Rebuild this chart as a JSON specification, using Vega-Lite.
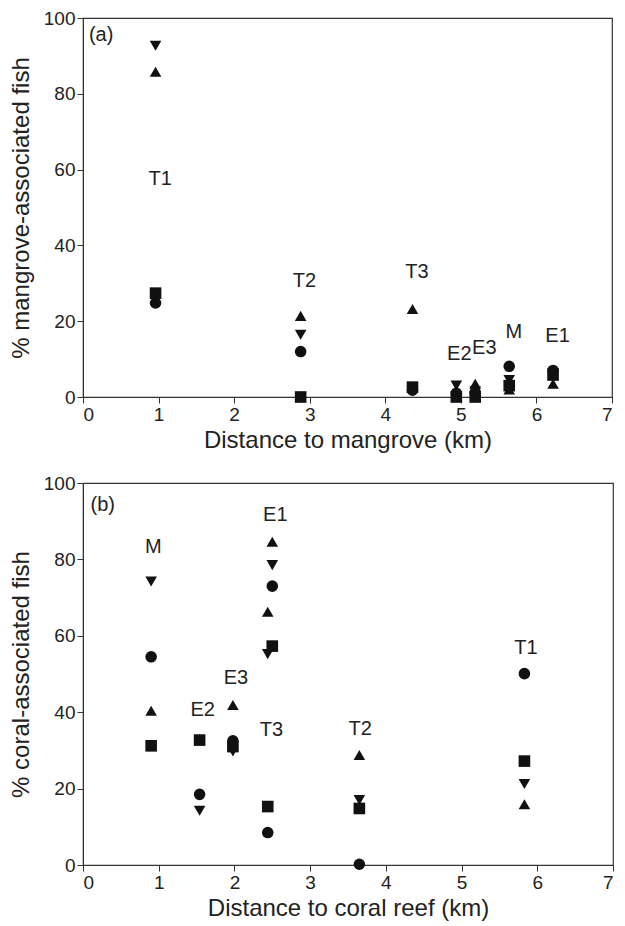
{
  "$schema": "https://vega.github.io/schema/vega-lite/v6.json",
  "padding": {"left": 8, "top": 8, "right": 1, "bottom": 2},
  "background": "white",
  "config": {
    "font": "Liberation Sans",
    "view": {"stroke": "#333", "strokeWidth": 1.2},
    "axis": {
      "grid": false, "domainColor": "#333", "tickColor": "#333", "tickSize": 6,
      "labelFontSize": 19, "titleFontSize": 24, "titleFontWeight": "normal",
      "labelColor": "#222", "titleColor": "#222", "labelPadding": 2, "labelFont": "Liberation Sans", "titleFont": "Liberation Sans"
    }
  },
  "datasets": {
    "ptsA": [
      {"site": "T1", "marker": "down", "x": 0.96, "y": 92.7},
      {"site": "T1", "marker": "up", "x": 0.96, "y": 85.8},
      {"site": "T1", "marker": "square", "x": 0.96, "y": 27.4},
      {"site": "T1", "marker": "circle", "x": 0.96, "y": 24.8},
      {"site": "T2", "marker": "up", "x": 2.88, "y": 21.4},
      {"site": "T2", "marker": "down", "x": 2.88, "y": 16.4},
      {"site": "T2", "marker": "circle", "x": 2.88, "y": 12.0},
      {"site": "T2", "marker": "square", "x": 2.88, "y": 0},
      {"site": "T3", "marker": "up", "x": 4.36, "y": 23.2},
      {"site": "T3", "marker": "square", "x": 4.36, "y": 2.6},
      {"site": "T3", "marker": "circle", "x": 4.36, "y": 1.8},
      {"site": "E2", "marker": "down", "x": 4.94, "y": 3.0},
      {"site": "E2", "marker": "up", "x": 4.94, "y": 1.5},
      {"site": "E2", "marker": "circle", "x": 4.94, "y": 1.0},
      {"site": "E2", "marker": "square", "x": 4.94, "y": 0},
      {"site": "E3", "marker": "up", "x": 5.19, "y": 3.5},
      {"site": "E3", "marker": "down", "x": 5.19, "y": 1.5},
      {"site": "E3", "marker": "circle", "x": 5.19, "y": 1.2},
      {"site": "E3", "marker": "square", "x": 5.19, "y": 0},
      {"site": "M", "marker": "circle", "x": 5.64, "y": 8.1},
      {"site": "M", "marker": "down", "x": 5.64, "y": 4.5},
      {"site": "M", "marker": "square", "x": 5.64, "y": 3.0},
      {"site": "M", "marker": "up", "x": 5.64, "y": 2.0},
      {"site": "E1", "marker": "circle", "x": 6.22, "y": 7.0},
      {"site": "E1", "marker": "down", "x": 6.22, "y": 6.3},
      {"site": "E1", "marker": "square", "x": 6.22, "y": 5.8},
      {"site": "E1", "marker": "up", "x": 6.22, "y": 3.5}
    ],
    "labA": [
      {"label": "(a)", "x": 0.24, "y": 95.5},
      {"label": "T1", "x": 1.02, "y": 57.5},
      {"label": "T2", "x": 2.93, "y": 30.7},
      {"label": "T3", "x": 4.42, "y": 33.0},
      {"label": "E2", "x": 4.98, "y": 11.3},
      {"label": "E3", "x": 5.31, "y": 12.9},
      {"label": "M", "x": 5.70, "y": 17.2},
      {"label": "E1", "x": 6.28, "y": 16.0}
    ],
    "ptsB": [
      {"site": "M", "marker": "down", "x": 0.90, "y": 74.2},
      {"site": "M", "marker": "circle", "x": 0.90, "y": 54.5},
      {"site": "M", "marker": "up", "x": 0.90, "y": 40.4},
      {"site": "M", "marker": "square", "x": 0.90, "y": 31.2},
      {"site": "E2", "marker": "up", "x": 1.54, "y": 33.0},
      {"site": "E2", "marker": "square", "x": 1.54, "y": 32.7},
      {"site": "E2", "marker": "circle", "x": 1.54, "y": 18.5},
      {"site": "E2", "marker": "down", "x": 1.54, "y": 14.2},
      {"site": "E3", "marker": "up", "x": 1.98, "y": 41.9},
      {"site": "E3", "marker": "down", "x": 1.98, "y": 29.7},
      {"site": "E3", "marker": "square", "x": 1.98, "y": 31.0},
      {"site": "E3", "marker": "circle", "x": 1.98, "y": 32.5},
      {"site": "E1", "marker": "up", "x": 2.50, "y": 84.6},
      {"site": "E1", "marker": "down", "x": 2.50, "y": 78.5},
      {"site": "E1", "marker": "circle", "x": 2.50, "y": 73.0},
      {"site": "E1", "marker": "square", "x": 2.50, "y": 57.3},
      {"site": "T3", "marker": "up", "x": 2.44, "y": 66.3},
      {"site": "T3", "marker": "down", "x": 2.44, "y": 55.2},
      {"site": "T3", "marker": "square", "x": 2.44, "y": 15.3},
      {"site": "T3", "marker": "circle", "x": 2.44, "y": 8.5},
      {"site": "T2", "marker": "up", "x": 3.65, "y": 28.8},
      {"site": "T2", "marker": "down", "x": 3.65, "y": 17.0},
      {"site": "T2", "marker": "square", "x": 3.65, "y": 14.8},
      {"site": "T2", "marker": "circle", "x": 3.65, "y": 0.2},
      {"site": "T1", "marker": "circle", "x": 5.83, "y": 50.1},
      {"site": "T1", "marker": "square", "x": 5.83, "y": 27.2},
      {"site": "T1", "marker": "down", "x": 5.83, "y": 21.2},
      {"site": "T1", "marker": "up", "x": 5.83, "y": 15.9}
    ],
    "labB": [
      {"label": "(b)", "x": 0.26, "y": 94.2},
      {"label": "M", "x": 0.93, "y": 83.2},
      {"label": "E2", "x": 1.58, "y": 40.6},
      {"label": "E3", "x": 2.02, "y": 48.9},
      {"label": "E1", "x": 2.54, "y": 91.6},
      {"label": "T3", "x": 2.49, "y": 35.3},
      {"label": "T2", "x": 3.66, "y": 35.5},
      {"label": "T1", "x": 5.85, "y": 56.7}
    ]
  },
  "columns": 1,
  "align": "none",
  "spacing": 20,
  "concat": [
    {
      "width": 529,
      "height": 379,
      "layer": [
        {
          "data": {"name": "ptsA"},
          "mark": {"type": "point", "filled": true, "size": 135, "opacity": 1, "color": "#111"},
          "encoding": {
            "x": {"field": "x", "type": "quantitative", "scale": {"domain": [0, 7], "nice": false}, "axis": {"values": [0, 1, 2, 3, 4, 5, 6, 7], "format": "d", "title": "Distance to mangrove (km)", "titlePadding": 4}},
            "y": {"field": "y", "type": "quantitative", "scale": {"domain": [0, 100], "nice": false}, "axis": {"values": [0, 20, 40, 60, 80, 100], "format": "d", "title": "% mangrove-associated fish", "titlePadding": 10}},
            "shape": {"field": "marker", "type": "nominal", "scale": {"domain": ["circle", "square", "up", "down"], "range": ["circle", "square", "triangle-up", "triangle-down"]}, "legend": null}
          }
        },
        {
          "data": {"name": "labA"},
          "mark": {"type": "text", "fontSize": 20, "color": "#222", "align": "center", "baseline": "middle", "font": "Liberation Sans"},
          "encoding": {
            "x": {"field": "x", "type": "quantitative"},
            "y": {"field": "y", "type": "quantitative"},
            "text": {"field": "label"}
          }
        }
      ]
    },
    {
      "width": 530,
      "height": 382,
      "layer": [
        {
          "data": {"name": "ptsB"},
          "mark": {"type": "point", "filled": true, "size": 135, "opacity": 1, "color": "#111"},
          "encoding": {
            "x": {"field": "x", "type": "quantitative", "scale": {"domain": [0, 7], "nice": false}, "axis": {"values": [0, 1, 2, 3, 4, 5, 6, 7], "format": "d", "title": "Distance to coral reef (km)", "titlePadding": 4}},
            "y": {"field": "y", "type": "quantitative", "scale": {"domain": [0, 100], "nice": false}, "axis": {"values": [0, 20, 40, 60, 80, 100], "format": "d", "title": "% coral-associated fish", "titlePadding": 10}},
            "shape": {"field": "marker", "type": "nominal", "scale": {"domain": ["circle", "square", "up", "down"], "range": ["circle", "square", "triangle-up", "triangle-down"]}, "legend": null}
          }
        },
        {
          "data": {"name": "labB"},
          "mark": {"type": "text", "fontSize": 20, "color": "#222", "align": "center", "baseline": "middle", "font": "Liberation Sans"},
          "encoding": {
            "x": {"field": "x", "type": "quantitative"},
            "y": {"field": "y", "type": "quantitative"},
            "text": {"field": "label"}
          }
        }
      ]
    }
  ]
}
